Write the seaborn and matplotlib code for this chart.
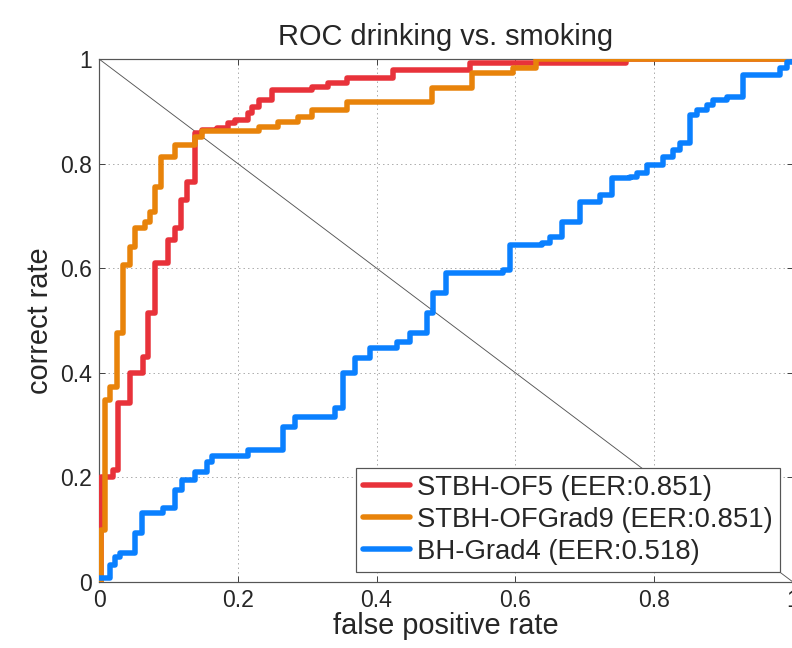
import matplotlib
matplotlib.use("Agg")
import matplotlib.pyplot as plt
import seaborn as sns
import pandas as pd

sns.set_theme(style="white")
plt.rcParams['font.family'] = ['Liberation Sans', 'DejaVu Sans']

# Step curves: each point = (x where the jump happens, new y value)
red_x = [0.0, 0.003, 0.02, 0.027, 0.045, 0.063, 0.07, 0.08, 0.10, 0.11, 0.118, 0.127, 0.138,
         0.148, 0.17, 0.186, 0.196, 0.215, 0.22, 0.23, 0.25, 0.307, 0.33, 0.357, 0.424, 0.535, 0.76, 1.0]
red_y = [0.0, 0.20, 0.214, 0.342, 0.40, 0.43, 0.514, 0.61, 0.654, 0.677, 0.73, 0.765, 0.858,
         0.864, 0.868, 0.878, 0.883, 0.897, 0.908, 0.922, 0.94, 0.946, 0.954, 0.964, 0.979, 0.993, 1.0, 1.0]

orange_x = [0.0, 0.003, 0.009, 0.016, 0.026, 0.034, 0.045, 0.052, 0.066, 0.073, 0.08, 0.09, 0.11,
            0.138, 0.148, 0.23, 0.258, 0.287, 0.307, 0.357, 0.48, 0.537, 0.597, 0.63, 1.0]
orange_y = [0.0, 0.10, 0.348, 0.373, 0.476, 0.606, 0.64, 0.677, 0.688, 0.707, 0.755, 0.813, 0.836,
            0.85, 0.862, 0.87, 0.88, 0.889, 0.902, 0.918, 0.944, 0.973, 0.983, 1.0, 1.0]

blue_x = [0.0, 0.016, 0.023, 0.03, 0.052, 0.062, 0.092, 0.11, 0.12, 0.138, 0.156, 0.163, 0.215,
          0.265, 0.282, 0.34, 0.352, 0.369, 0.39, 0.43, 0.448, 0.473, 0.481, 0.50, 0.582, 0.592,
          0.638, 0.65, 0.667, 0.693, 0.722, 0.732, 0.74, 0.765, 0.775, 0.79, 0.813, 0.827, 0.837,
          0.852, 0.862, 0.876, 0.885, 0.905, 0.928, 0.981, 0.991, 1.0]
blue_y = [0.008, 0.033, 0.048, 0.055, 0.094, 0.132, 0.141, 0.176, 0.195, 0.21, 0.23, 0.24, 0.252,
          0.297, 0.316, 0.333, 0.40, 0.428, 0.447, 0.459, 0.476, 0.514, 0.553, 0.59, 0.597, 0.644,
          0.648, 0.66, 0.688, 0.727, 0.74, 0.74, 0.772, 0.775, 0.782, 0.797, 0.813, 0.826, 0.839,
          0.893, 0.902, 0.912, 0.922, 0.927, 0.969, 0.983, 0.994, 1.0]

labels = ["STBH-OF5 (EER:0.851)", "STBH-OFGrad9 (EER:0.851)", "BH-Grad4 (EER:0.518)"]
colors = ["#e8323a", "#e8830a", "#0a80ff"]

ticks = [0, 0.2, 0.4, 0.6, 0.8, 1]
tick_labels = ["0", "0.2", "0.4", "0.6", "0.8", "1"]

fig = plt.figure(figsize=(11, 9), dpi=72)
ax = fig.add_axes([0.125, 0.102, 0.876, 0.807])

# diagonal reference
ax.plot([0, 1], [1, 0], color="#555555", lw=0.9, zorder=1)

for xs, ys, lab, col in zip([red_x, orange_x, blue_x], [red_y, orange_y, blue_y], labels, colors):
    df = pd.DataFrame({"x": xs, "y": ys})
    sns.lineplot(data=df, x="x", y="y", ax=ax, color=col, lw=5.5, label=lab,
                 drawstyle="steps-post", estimator=None, sort=False, zorder=3)

ax.set_xlim(0, 1)
ax.set_ylim(0, 1)
ax.set_xticks(ticks)
ax.set_xticklabels(tick_labels)
ax.set_yticks(ticks)
ax.set_yticklabels(tick_labels)
ax.grid(True, color="#b0b0b0", linestyle=(0, (1.5, 3)), lw=1.0)
ax.tick_params(direction="in", length=6, width=1, color="#444444", labelsize=23,
               top=True, right=True, bottom=True, left=True, pad=7)
for s in ax.spines.values():
    s.set_color("#555555")
    s.set_linewidth(1.2)

ax.set_title("ROC drinking vs. smoking", fontsize=29, pad=14)
ax.set_xlabel("false positive rate", fontsize=29, labelpad=0)
ax.set_ylabel("correct rate", fontsize=29, labelpad=6)

leg = ax.legend(loc="lower right", bbox_to_anchor=(0.981, 0.019), borderaxespad=0,
                fontsize=27.5, frameon=True, fancybox=False, edgecolor="#555555",
                framealpha=1, handlelength=1.7, handletextpad=0.25, borderpad=0.25,
                labelspacing=0.22)
leg.get_frame().set_linewidth(1.2)
for line in leg.get_lines():
    line.set_linewidth(5.5)

fig.savefig("out.png", dpi=72)
